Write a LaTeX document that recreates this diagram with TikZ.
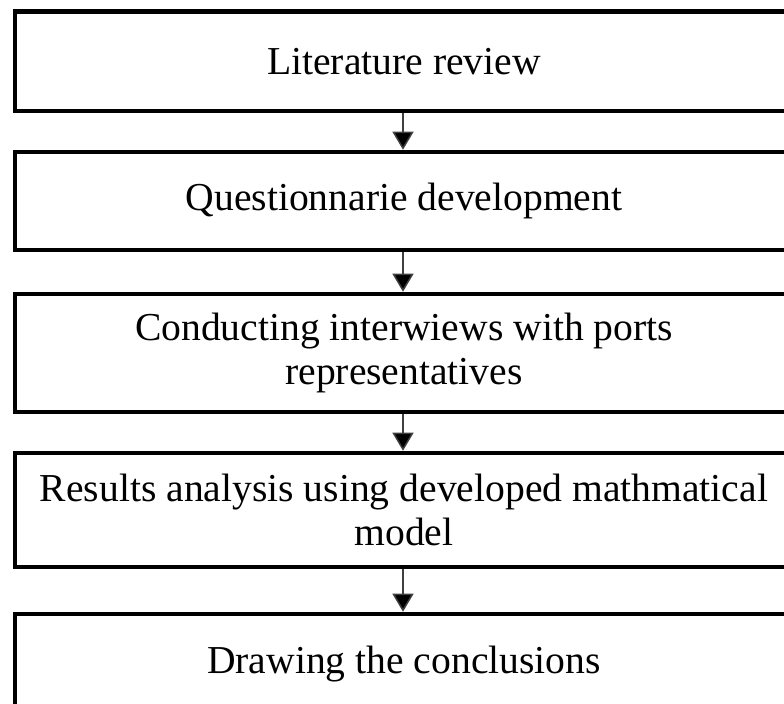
\documentclass[tikz,border=0pt]{standalone}
\usepackage{fontspec}
\setmainfont{Liberation Serif}
\usetikzlibrary{arrows.meta}
\tikzset{
    stagebox/.style={draw, line width=2.25pt, rectangle, minimum width=389pt, align=center, inner sep=0pt, font=\fontsize{19.8}{21.8}\selectfont},
    flowarr/.style={draw=black!75, line width=0.75pt, -{Triangle[width=10.5pt,length=9pt,fill=black]}}
}
\begin{document}
\begin{tikzpicture}[x=0.5pt,y=-0.5pt]
    \useasboundingbox (0,0) rectangle (784,704);
    \clip (0,0) rectangle (784,704);
    \node[stagebox, minimum height=49.75pt] (lit) at (404,61.25) {Literature review};
    \node[stagebox, minimum height=49pt] (quest) at (404,201) {Questionnarie development};
    \node[stagebox, minimum height=59pt] (interv) at (404,353) {Conducting interwiews with ports\\representatives};
    \node[stagebox, minimum height=57pt] (anal) at (404,510) {Results analysis using developed mathmatical\\model};
    \node[stagebox, minimum height=50pt] (concl) at (404,664) {Drawing the conclusions};
    % arrows between stages
    \draw[flowarr] ([xshift=-0.5pt]lit.south) -- ([xshift=-0.5pt]quest.north);
    \draw[flowarr] ([xshift=-0.5pt]quest.south) -- ([xshift=-0.5pt]interv.north);
    \draw[flowarr] ([xshift=-0.5pt]interv.south) -- ([xshift=-0.5pt]anal.north);
    \draw[flowarr] ([xshift=-0.5pt]anal.south) -- ([xshift=-0.5pt]concl.north);
\end{tikzpicture}
\end{document}
